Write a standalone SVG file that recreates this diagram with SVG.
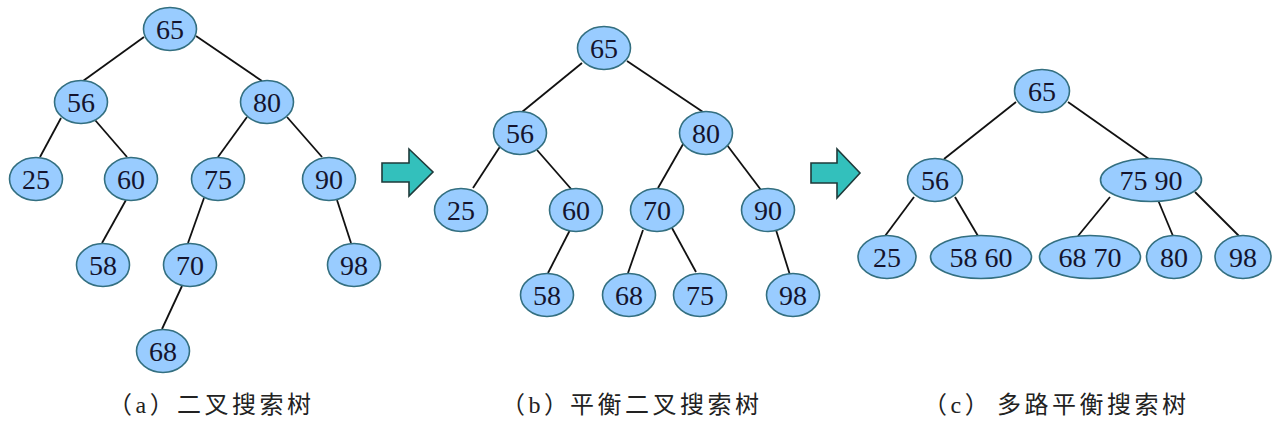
<svg xmlns="http://www.w3.org/2000/svg" width="1280" height="430" viewBox="0 0 1280 430">
<style>
.n ellipse{fill:#99ccff;stroke:#336f80;stroke-width:1.6}
.n text{font-family:"Liberation Serif","Times New Roman",serif;font-size:28px;fill:#14142e;text-anchor:middle}
.e line{stroke:#111;stroke-width:1.8}
.arrow{fill:#33c0bc;stroke:#1e3a3a;stroke-width:1.6;stroke-linejoin:miter}
.cap{font-family:"Liberation Serif","Noto Sans CJK SC",serif;font-size:24px;fill:#222;letter-spacing:3.5px}
</style>
<rect width="1280" height="430" fill="#fff"/>
<g id="connectors" class="e">
<line x1="144" y1="37" x2="83" y2="81"/>
<line x1="196" y1="36" x2="262" y2="81"/>
<line x1="61" y1="118" x2="40" y2="157"/>
<line x1="95" y1="120" x2="127" y2="157"/>
<line x1="247" y1="117" x2="218" y2="157"/>
<line x1="287" y1="117" x2="322" y2="157"/>
<line x1="126" y1="200" x2="102" y2="243"/>
<line x1="204" y1="198" x2="188" y2="243"/>
<line x1="337" y1="200" x2="351" y2="243"/>
<line x1="182" y1="286" x2="162" y2="329"/>
<line x1="582" y1="63" x2="522" y2="112"/>
<line x1="627" y1="61" x2="703" y2="112"/>
<line x1="503" y1="142" x2="473" y2="188"/>
<line x1="537" y1="150" x2="572" y2="190"/>
<line x1="686" y1="139" x2="658" y2="188"/>
<line x1="727" y1="145" x2="761" y2="190"/>
<line x1="570" y1="230" x2="548" y2="273"/>
<line x1="643" y1="230" x2="628" y2="273"/>
<line x1="672" y1="228" x2="696" y2="272"/>
<line x1="776" y1="230" x2="790" y2="275"/>
<line x1="1016" y1="102" x2="944" y2="159"/>
<line x1="1068" y1="102" x2="1149" y2="159"/>
<line x1="914" y1="197" x2="885" y2="236"/>
<line x1="955" y1="197" x2="978" y2="236"/>
<line x1="1110" y1="197" x2="1078" y2="236"/>
<line x1="1158" y1="200" x2="1173" y2="236"/>
<line x1="1195" y1="192" x2="1239" y2="236"/>
</g>
<g id="a65" class="n"><ellipse cx="170" cy="29" rx="26.5" ry="21.5"/><text x="170" y="39">65</text></g>
<g id="a56" class="n"><ellipse cx="81" cy="102" rx="26.5" ry="21.5"/><text x="81" y="112">56</text></g>
<g id="a80" class="n"><ellipse cx="267" cy="102" rx="26.5" ry="21.5"/><text x="267" y="112">80</text></g>
<g id="a25" class="n"><ellipse cx="36" cy="179" rx="26.5" ry="21.5"/><text x="36" y="189">25</text></g>
<g id="a60" class="n"><ellipse cx="131" cy="179" rx="26.5" ry="21.5"/><text x="131" y="189">60</text></g>
<g id="a75" class="n"><ellipse cx="218" cy="179" rx="26.5" ry="21.5"/><text x="218" y="189">75</text></g>
<g id="a90" class="n"><ellipse cx="329" cy="179" rx="26.5" ry="21.5"/><text x="329" y="189">90</text></g>
<g id="a58" class="n"><ellipse cx="103" cy="265" rx="26.5" ry="21.5"/><text x="103" y="275">58</text></g>
<g id="a70" class="n"><ellipse cx="190" cy="265" rx="26.5" ry="21.5"/><text x="190" y="275">70</text></g>
<g id="a98" class="n"><ellipse cx="354" cy="265" rx="26.5" ry="21.5"/><text x="354" y="275">98</text></g>
<g id="a68" class="n"><ellipse cx="163" cy="351" rx="26.5" ry="21.5"/><text x="163" y="361">68</text></g>
<g id="arrow1"><path class="arrow" d="M382,163 H409 V149 L433,172 L409,196 V182 H382 Z"/></g>
<g id="arrow2"><path class="arrow" d="M811,163 H837 V149 L860,173 L837,198 V183 H811 Z"/></g>
<g id="b65" class="n"><ellipse cx="604" cy="48" rx="26.5" ry="21.5"/><text x="604" y="58">65</text></g>
<g id="b56" class="n"><ellipse cx="520" cy="133" rx="26.5" ry="21.5"/><text x="520" y="143">56</text></g>
<g id="b80" class="n"><ellipse cx="706" cy="133" rx="26.5" ry="21.5"/><text x="706" y="143">80</text></g>
<g id="b25" class="n"><ellipse cx="461" cy="210" rx="26.5" ry="21.5"/><text x="461" y="220">25</text></g>
<g id="b60" class="n"><ellipse cx="576" cy="210" rx="26.5" ry="21.5"/><text x="576" y="220">60</text></g>
<g id="b70" class="n"><ellipse cx="657" cy="210" rx="26.5" ry="21.5"/><text x="657" y="220">70</text></g>
<g id="b90" class="n"><ellipse cx="768" cy="210" rx="26.5" ry="21.5"/><text x="768" y="220">90</text></g>
<g id="b58" class="n"><ellipse cx="547" cy="295" rx="26.5" ry="21.5"/><text x="547" y="305">58</text></g>
<g id="b68" class="n"><ellipse cx="629" cy="295" rx="26.5" ry="21.5"/><text x="629" y="305">68</text></g>
<g id="b75" class="n"><ellipse cx="700" cy="295" rx="26.5" ry="21.5"/><text x="700" y="305">75</text></g>
<g id="b98" class="n"><ellipse cx="793" cy="295" rx="26.5" ry="21.5"/><text x="793" y="305">98</text></g>
<g id="c65" class="n"><ellipse cx="1042" cy="91" rx="27.5" ry="21.5"/><text x="1042" y="101">65</text></g>
<g id="c56" class="n"><ellipse cx="935" cy="180" rx="27.5" ry="21.5"/><text x="935" y="190">56</text></g>
<g id="c7590" class="n"><ellipse cx="1151" cy="180" rx="50.5" ry="21.5"/><text x="1151" y="190">75 90</text></g>
<g id="c25" class="n"><ellipse cx="887" cy="257" rx="29" ry="21.5"/><text x="887" y="267">25</text></g>
<g id="c5860" class="n"><ellipse cx="981" cy="257" rx="50.5" ry="21.5"/><text x="981" y="267">58 60</text></g>
<g id="c6870" class="n"><ellipse cx="1090" cy="257" rx="50.5" ry="21.5"/><text x="1090" y="267">68 70</text></g>
<g id="c80" class="n"><ellipse cx="1174" cy="257" rx="27.5" ry="21.5"/><text x="1174" y="267">80</text></g>
<g id="c98" class="n"><ellipse cx="1243" cy="257" rx="28" ry="21.5"/><text x="1243" y="267">98</text></g>
<g id="captions">
<text class="cap" y="413"><tspan x="108">（a）</tspan><tspan x="177">二叉搜索树</tspan></text>
<text class="cap" y="413"><tspan x="501">（b）</tspan><tspan x="570">平衡二叉搜索树</tspan></text>
<text class="cap" y="413"><tspan x="923">（c）</tspan><tspan x="997">多路平衡搜索树</tspan></text>
</g>
</svg>
